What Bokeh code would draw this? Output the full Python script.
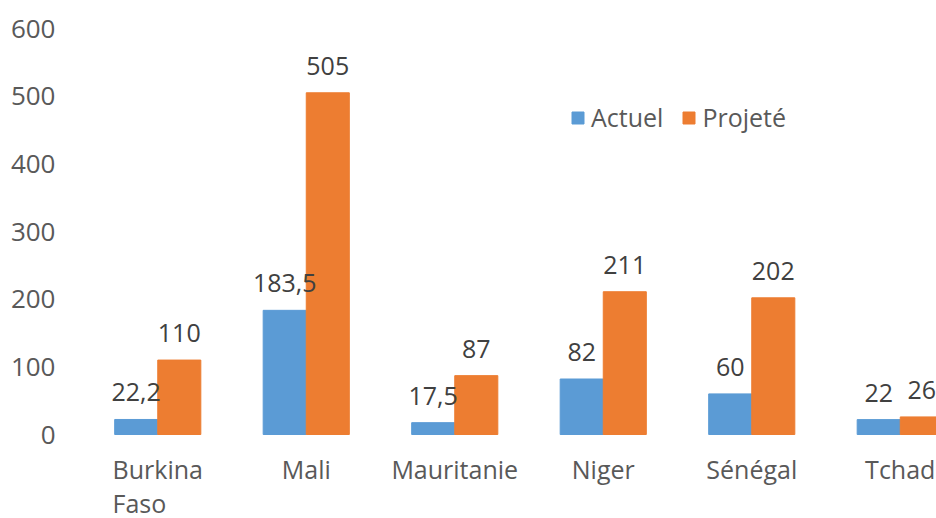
from bokeh.plotting import figure
from bokeh.models import ColumnDataSource, Legend, LegendItem, FixedTicker, Range1d, LabelSet
from bokeh.core.properties import value
from bokeh.embed import file_html
from bokeh.resources import INLINE

categories = ["Burkina\nFaso", "Mali", "Mauritanie", "Niger", "Sénégal", "Tchad"]
actuel = [22.2, 183.5, 17.5, 82, 60, 22]
projete = [110, 505, 87, 211, 202, 26]
actuel_labels = ["22,2", "183,5", "17,5", "82", "60", "22"]
projete_labels = ["110", "505", "87", "211", "202", "26"]
y_ticks = [0, 100, 200, 300, 400, 500, 600]

BLUE = "#5B9BD5"
ORANGE = "#ED7D31"
FONT = "Open Sans"
FS = "25px"

idx = list(range(len(categories)))
bw = 0.29
src_a = ColumnDataSource(dict(x=[i - bw / 2 for i in idx], top=actuel, lab=actuel_labels))
src_p = ColumnDataSource(dict(x=[i + bw / 2 for i in idx], top=projete, lab=projete_labels))
src_c = ColumnDataSource(dict(x=idx, y=[0] * len(idx), lab=categories))

H = 518
top_border = 28
plot_h = 406  # pixels for 0..600
frame_h = H - top_border
y_min = -(frame_h - plot_h) / plot_h * 600

W = 936
left_border = 83
step = 148.5
x_start = -74.25 / step
x_end = x_start + (W - left_border) / step

p = figure(width=W, height=H, output_backend="svg", toolbar_location=None,
           x_range=Range1d(x_start, x_end), y_range=Range1d(y_min, 600),
           min_border_left=left_border, min_border_right=0, min_border_top=top_border,
           min_border_bottom=0)
p.outline_line_color = None
p.xgrid.grid_line_color = None
p.ygrid.grid_line_color = None

ra = p.vbar(x="x", top="top", bottom=0, width=bw, source=src_a, color=BLUE)
rp = p.vbar(x="x", top="top", bottom=0, width=bw, source=src_p, color=ORANGE)

for src in (src_a, src_p):
    p.add_layout(LabelSet(x="x", y="top", text="lab", source=src, text_align="center",
                          text_baseline="bottom", y_offset=18, text_font=value(FONT),
                          text_font_size=FS, text_color="#404040"))

# category labels under the bars
p.add_layout(LabelSet(x="x", y="y", text="lab", source=src_c, text_align="center",
                      text_baseline="top", y_offset=-17, text_font=value(FONT),
                      text_font_size=FS, text_color="#595959", text_line_height=1.0))

p.xaxis.visible = False
p.yaxis.ticker = FixedTicker(ticks=y_ticks)
ax = p.yaxis
ax.axis_line_color = None
ax.major_tick_line_color = None
ax.minor_tick_line_color = None
ax.major_tick_out = 0
ax.minor_tick_out = 0
ax.major_label_text_font = FONT
ax.major_label_text_font_size = "26px"
ax.major_label_text_color = "#595959"
ax.major_label_standoff = 28

legend = Legend(items=[LegendItem(label="Actuel", renderers=[ra]),
                       LegendItem(label="Projeté", renderers=[rp])],
                orientation="horizontal", location=(487, 384),
                label_text_font=FONT, label_text_font_size=FS, label_text_color="#595959",
                glyph_width=15, glyph_height=15, label_standoff=6, spacing=18,
                padding=0, margin=0, border_line_color=None, background_fill_alpha=0)
p.add_layout(legend)

open("out.html", "w").write(file_html(p, INLINE))
